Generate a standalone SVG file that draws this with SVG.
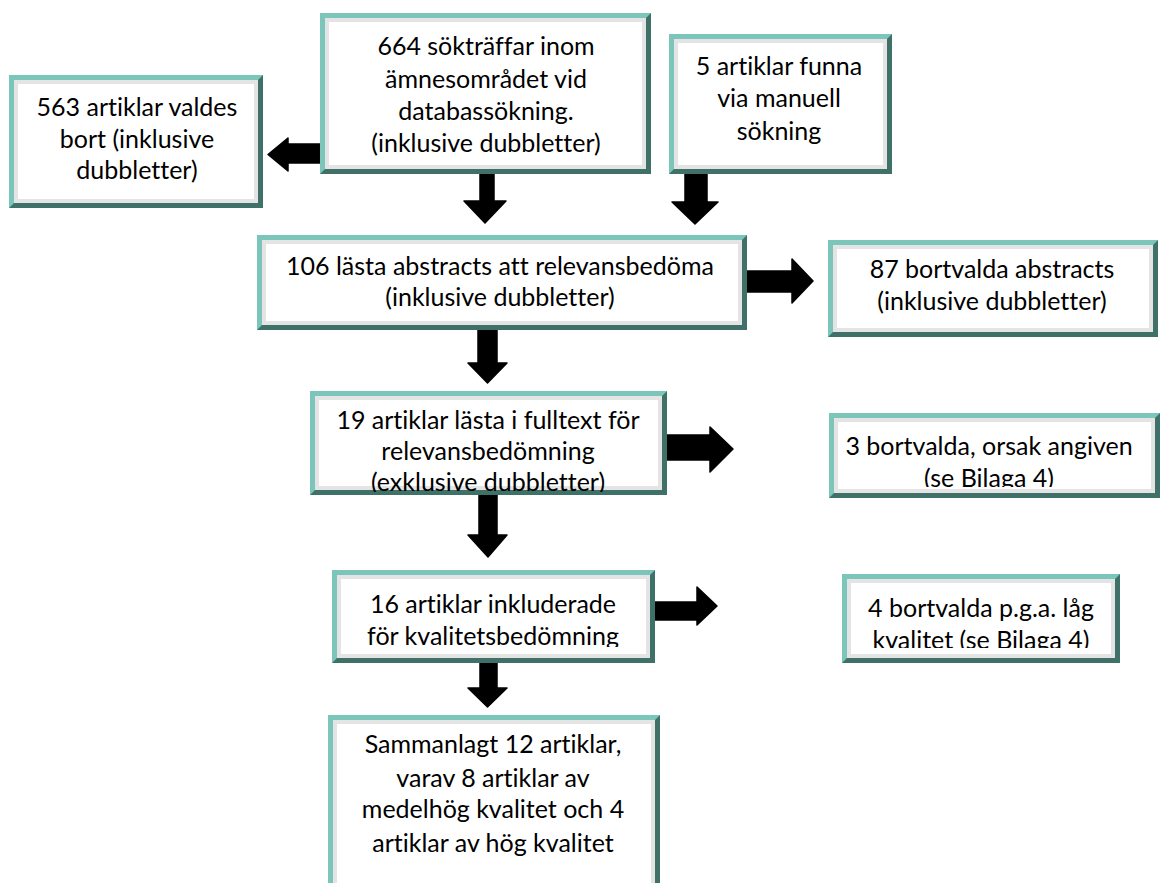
<svg xmlns="http://www.w3.org/2000/svg" width="1160" height="883" viewBox="0 0 1160 883">
<style>
.o{fill:#3f7169}
.l{fill:#7cc5ba}
.i{fill:#ffffff;stroke:#e4e4e4;stroke-width:4}
text{font-family:Lato,"Open Sans","Liberation Sans",sans-serif;font-size:25px;fill:#000;text-anchor:middle;font-variant-ligatures:none;font-feature-settings:"liga" 0}
.a{fill:#000;stroke:#000;stroke-width:1.5;stroke-linejoin:round}
</style>
<defs>
<clipPath id="c6"><rect x="310" y="391" width="357" height="101"/></clipPath>
<clipPath id="c7"><rect x="829" y="413" width="331" height="74"/></clipPath>
<clipPath id="c8"><rect x="332" y="570" width="323" height="77"/></clipPath>
<clipPath id="c9"><rect x="842" y="574" width="278" height="74"/></clipPath>
</defs>
<rect width="1160" height="883" fill="#fff"/>
<g id="connectors">
<polygon class="a" points="323,144 288,144 288,138 268,154.5 288,171 288,163 323,163"/>
<polygon class="a" points="480,173 494,173 494,201 506,201 485,223 464,201 480,201"/>
<polygon class="a" points="685,174 707,174 707,202 718,202 695,224 672,202 685,202"/>
<polygon class="a" points="747,271 792,271 792,259 813,281 792,303 792,292 747,292"/>
<polygon class="a" points="478,330 497,330 497,363 507,363 487.5,383 468,363 478,363"/>
<polygon class="a" points="479,495 497,495 497,535 507,535 488,557 468,535 479,535"/>
<polygon class="a" points="667,435 710,435 710,427 733,449 710,472 710,460 667,460"/>
<polygon class="a" points="653,602 697,602 697,587 717,606 697,625 697,620 653,620"/>
<polygon class="a" points="480,663 497,663 497,688 507,688 487.5,707 468,688 480,688"/>
</g>
<g id="n664">
<rect class="o" x="320" y="13" width="331" height="161"/>
<path class="l" d="M320 13 H651 L646 18 H325 V169 L320 174 Z"/>
<rect class="i" x="327" y="20" width="317" height="147"/>
<text x="486" y="55">664 sökträffar inom</text>
<text x="486" y="88">ämnesområdet vid</text>
<text x="486" y="120">databassökning.</text>
<text x="486" y="152">(inklusive dubbletter)</text>
</g>
<g id="n563">
<rect class="o" x="9" y="75" width="254" height="133"/>
<path class="l" d="M9 75 H263 L258 80 H14 V203 L9 208 Z"/>
<rect class="i" x="16" y="82" width="240" height="119"/>
<text x="137" y="116">563 artiklar valdes</text>
<text x="137" y="148">bort (inklusive</text>
<text x="137" y="179">dubbletter)</text>
</g>
<g id="n5">
<rect class="o" x="669" y="34" width="223" height="140"/>
<path class="l" d="M669 34 H892 L887 39 H674 V169 L669 174 Z"/>
<rect class="i" x="676" y="41" width="209" height="126"/>
<text x="779" y="75">5 artiklar funna</text>
<text x="779" y="107">via manuell</text>
<text x="779" y="140">sökning</text>
</g>
<g id="n106">
<rect class="o" x="257" y="235" width="490" height="95"/>
<path class="l" d="M257 235 H747 L742 240 H262 V325 L257 330 Z"/>
<rect class="i" x="264" y="242" width="476" height="81"/>
<text x="500" y="275">106 lästa abstracts att relevansbedöma</text>
<text x="500" y="306">(inklusive dubbletter)</text>
</g>
<g id="n87">
<rect class="o" x="828" y="240" width="330" height="97"/>
<path class="l" d="M828 240 H1158 L1153 245 H833 V332 L828 337 Z"/>
<rect class="i" x="835" y="247" width="316" height="83"/>
<text x="992" y="278">87 bortvalda abstracts</text>
<text x="992" y="310">(inklusive dubbletter)</text>
</g>
<g id="n19">
<rect class="o" x="310" y="391" width="357" height="104"/>
<path class="l" d="M310 391 H667 L662 396 H315 V490 L310 495 Z"/>
<rect class="i" x="317" y="398" width="343" height="90"/>
<g clip-path="url(#c6)">
<text x="488" y="429">19 artiklar lästa i fulltext för</text>
<text x="488" y="460">relevansbedömning</text>
<text x="488" y="491">(exklusive dubbletter)</text>
</g>
</g>
<g id="n3">
<rect class="o" x="829" y="413" width="331" height="85"/>
<path class="l" d="M829 413 H1160 L1155 418 H834 V493 L829 498 Z"/>
<rect class="i" x="836" y="420" width="317" height="71"/>
<g clip-path="url(#c7)">
<text x="989" y="455">3 bortvalda, orsak angiven</text>
<text x="989" y="487">(se Bilaga 4)</text>
</g>
</g>
<g id="n16">
<rect class="o" x="332" y="570" width="323" height="93"/>
<path class="l" d="M332 570 H655 L650 575 H337 V658 L332 663 Z"/>
<rect class="i" x="339" y="577" width="309" height="79"/>
<g clip-path="url(#c8)">
<text x="493" y="613">16 artiklar inkluderade</text>
<text x="493" y="645">för kvalitetsbedömning</text>
</g>
</g>
<g id="n4">
<rect class="o" x="842" y="574" width="278" height="89"/>
<path class="l" d="M842 574 H1120 L1115 579 H847 V658 L842 663 Z"/>
<rect class="i" x="849" y="581" width="264" height="75"/>
<g clip-path="url(#c9)">
<text x="981" y="617">4 bortvalda p.g.a. låg</text>
<text x="981" y="649">kvalitet (se Bilaga 4)</text>
</g>
</g>
<g id="n12">
<rect class="o" x="328" y="715" width="332" height="180"/>
<path class="l" d="M328 715 H660 L655 720 H333 V890 L328 895 Z"/>
<rect class="i" x="335" y="722" width="318" height="166"/>
<text x="493" y="753">Sammanlagt 12 artiklar,</text>
<text x="493" y="787">varav 8 artiklar av</text>
<text x="493" y="818">medelhög kvalitet och 4</text>
<text x="493" y="852">artiklar av hög kvalitet</text>
</g>
</svg>
